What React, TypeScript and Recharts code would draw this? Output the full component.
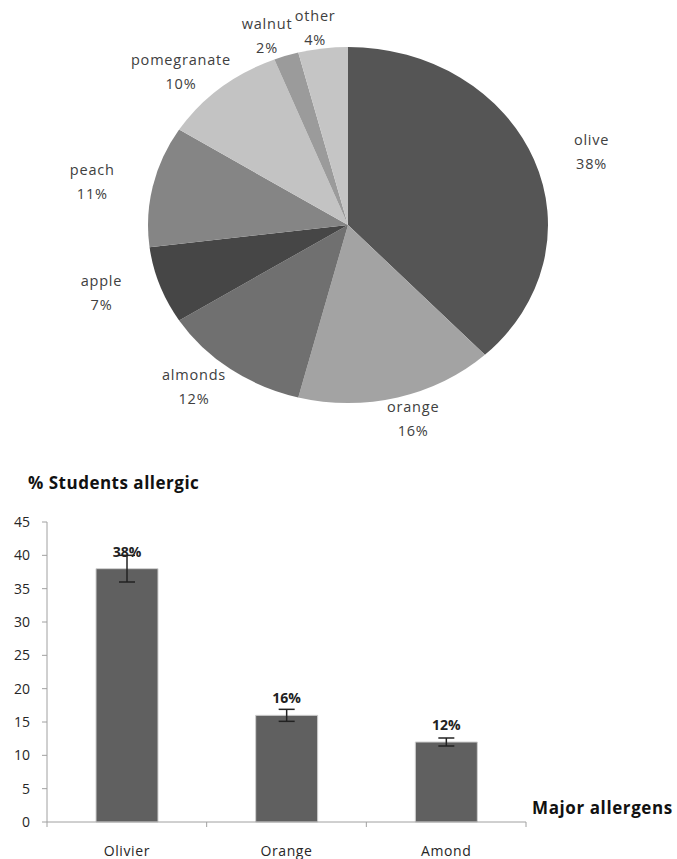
import { Bar, BarChart, Cell, ErrorBar, LabelList, Pie, PieChart, XAxis, YAxis } from 'recharts';

// pie: allergen share
const pieNames = ['olive', 'orange', 'almonds', 'apple', 'peach', 'pomegranate', 'walnut', 'other'];
const pieValues = [38, 16, 12, 7, 11, 10, 2, 4];
const pieColors = ['#555555', '#a3a3a3', '#707070', '#464646', '#858585', '#c3c3c3', '#9b9b9b', '#c5c5c5'];

// bars: major allergens
const barCategories = ['Olivier', 'Orange', 'Amond'];
const barValues = [38, 16, 12];
const barErrors = [2, 0.9, 0.6];
const barLabels = ['38%', '16%', '12%'];
const yTicks = [0, 5, 10, 15, 20, 25, 30, 35, 40, 45];

const pieData = pieNames.map((name, i) => ({ name, value: pieValues[i] }));
const barData = barCategories.map((cat, i) => ({
  cat,
  value: barValues[i],
  err: barErrors[i],
  label: barLabels[i],
}));

const FONT = '"Open Sans", sans-serif';
const RADIAN = Math.PI / 180;
const SQUASH = 0.89; // pie is drawn as a flattened ellipse

function EllipseSector(props: any) {
  const { cx, cy, outerRadius, startAngle, endAngle, fill } = props;
  const rx = outerRadius;
  const ry = outerRadius * SQUASH;
  const pt = (a: number) => [cx + rx * Math.cos(a * RADIAN), cy - ry * Math.sin(a * RADIAN)];
  const [x1, y1] = pt(startAngle);
  const [x2, y2] = pt(endAngle);
  const large = Math.abs(endAngle - startAngle) > 180 ? 1 : 0;
  const sweep = startAngle > endAngle ? 1 : 0;
  return (
    <path
      d={`M${cx},${cy}L${x1},${y1}A${rx},${ry},0,${large},${sweep},${x2},${y2}Z`}
      fill={fill}
      stroke="none"
    />
  );
}

function renderPieLabel(props: any) {
  const { cx, cy, midAngle, outerRadius, name, value } = props;
  const x = cx + outerRadius * 1.31 * Math.cos(midAngle * RADIAN);
  const y = cy - outerRadius * SQUASH * 1.12 * Math.sin(midAngle * RADIAN);
  const style = { fontFamily: FONT, fontSize: 14.5, letterSpacing: 0.8 };
  return (
    <g>
      <text x={x} y={y - 12} textAnchor="middle" dominantBaseline="central" fill="#404040" style={style}>
        {name}
      </text>
      <text x={x} y={y + 12} textAnchor="middle" dominantBaseline="central" fill="#404040" style={style}>
        {value}%
      </text>
    </g>
  );
}

function CategoryTick(props: any) {
  const { x, y, payload, index, visibleTicksCount, width } = props;
  const half = width && visibleTicksCount ? width / visibleTicksCount / 2 : 0;
  const last = index === visibleTicksCount - 1;
  return (
    <g>
      <line x1={x - half} y1={y} x2={x - half} y2={y + 5} stroke="#a0a0a0" />
      {last && <line x1={x + half} y1={y} x2={x + half} y2={y + 5} stroke="#a0a0a0" />}
      <text
        x={x}
        y={y + 34}
        textAnchor="middle"
        fill="#262626"
        style={{ fontFamily: FONT, fontSize: 14, letterSpacing: 0.6 }}
      >
        {payload.value}
      </text>
    </g>
  );
}

export default function App() {
  return (
    <div
      style={{
        position: 'absolute',
        left: 0,
        top: 0,
        width: 677,
        height: 859,
        background: '#fff',
        overflow: 'hidden',
        fontFamily: FONT,
      }}
    >
      <PieChart
        width={677}
        height={470}
        margin={{ top: 0, right: 0, bottom: 0, left: 0 }}
        style={{ position: 'absolute', left: 0, top: 0 }}
      >
        <Pie
          data={pieData}
          dataKey="value"
          nameKey="name"
          cx={348}
          cy={225}
          outerRadius={200}
          startAngle={90}
          endAngle={-270}
          stroke="none"
          shape={EllipseSector}
          activeShape={EllipseSector}
          label={renderPieLabel}
          labelLine={false}
          isAnimationActive={false}
        >
          {pieData.map((d, i) => (
            <Cell key={d.name} fill={pieColors[i]} />
          ))}
        </Pie>
      </PieChart>

      <div
        style={{
          position: 'absolute',
          left: 28,
          top: 471,
          fontSize: 17,
          fontWeight: 700,
          letterSpacing: 0.5,
          color: '#111',
          whiteSpace: 'nowrap',
        }}
      >
        % Students allergic
      </div>
      <div
        style={{
          position: 'absolute',
          left: 532,
          top: 796,
          fontSize: 17,
          fontWeight: 700,
          letterSpacing: 0.6,
          color: '#111',
          whiteSpace: 'nowrap',
        }}
      >
        Major allergens
      </div>

      <BarChart
        width={677}
        height={419}
        data={barData}
        margin={{ top: 82, right: 151, bottom: 7, left: 7 }}
        style={{ position: 'absolute', left: 0, top: 440 }}
      >
        <XAxis
          dataKey="cat"
          height={30}
          axisLine={{ stroke: '#a0a0a0' }}
          tickLine={false}
          tickSize={0}
          tickMargin={0}
          tick={<CategoryTick />}
          interval={0}
        />
        <YAxis
          domain={[0, 45]}
          ticks={yTicks}
          width={40}
          axisLine={{ stroke: '#a0a0a0' }}
          tickLine={{ stroke: '#a0a0a0' }}
          tickSize={5}
          tickMargin={12}
          tick={{ fill: '#262626', fontSize: 14, fontFamily: FONT }}
          interval={0}
        />
        <Bar dataKey="value" fill="#606060" stroke="#cfcfcf" strokeWidth={1} barSize={62} isAnimationActive={false}>
          <ErrorBar dataKey="err" width={8} stroke="#222" strokeWidth={1.5} />
          <LabelList
            dataKey="label"
            position="top"
            offset={12}
            style={{ fontFamily: FONT, fontSize: 14, fontWeight: 700, fill: '#222' }}
          />
        </Bar>
      </BarChart>
    </div>
  );
}
